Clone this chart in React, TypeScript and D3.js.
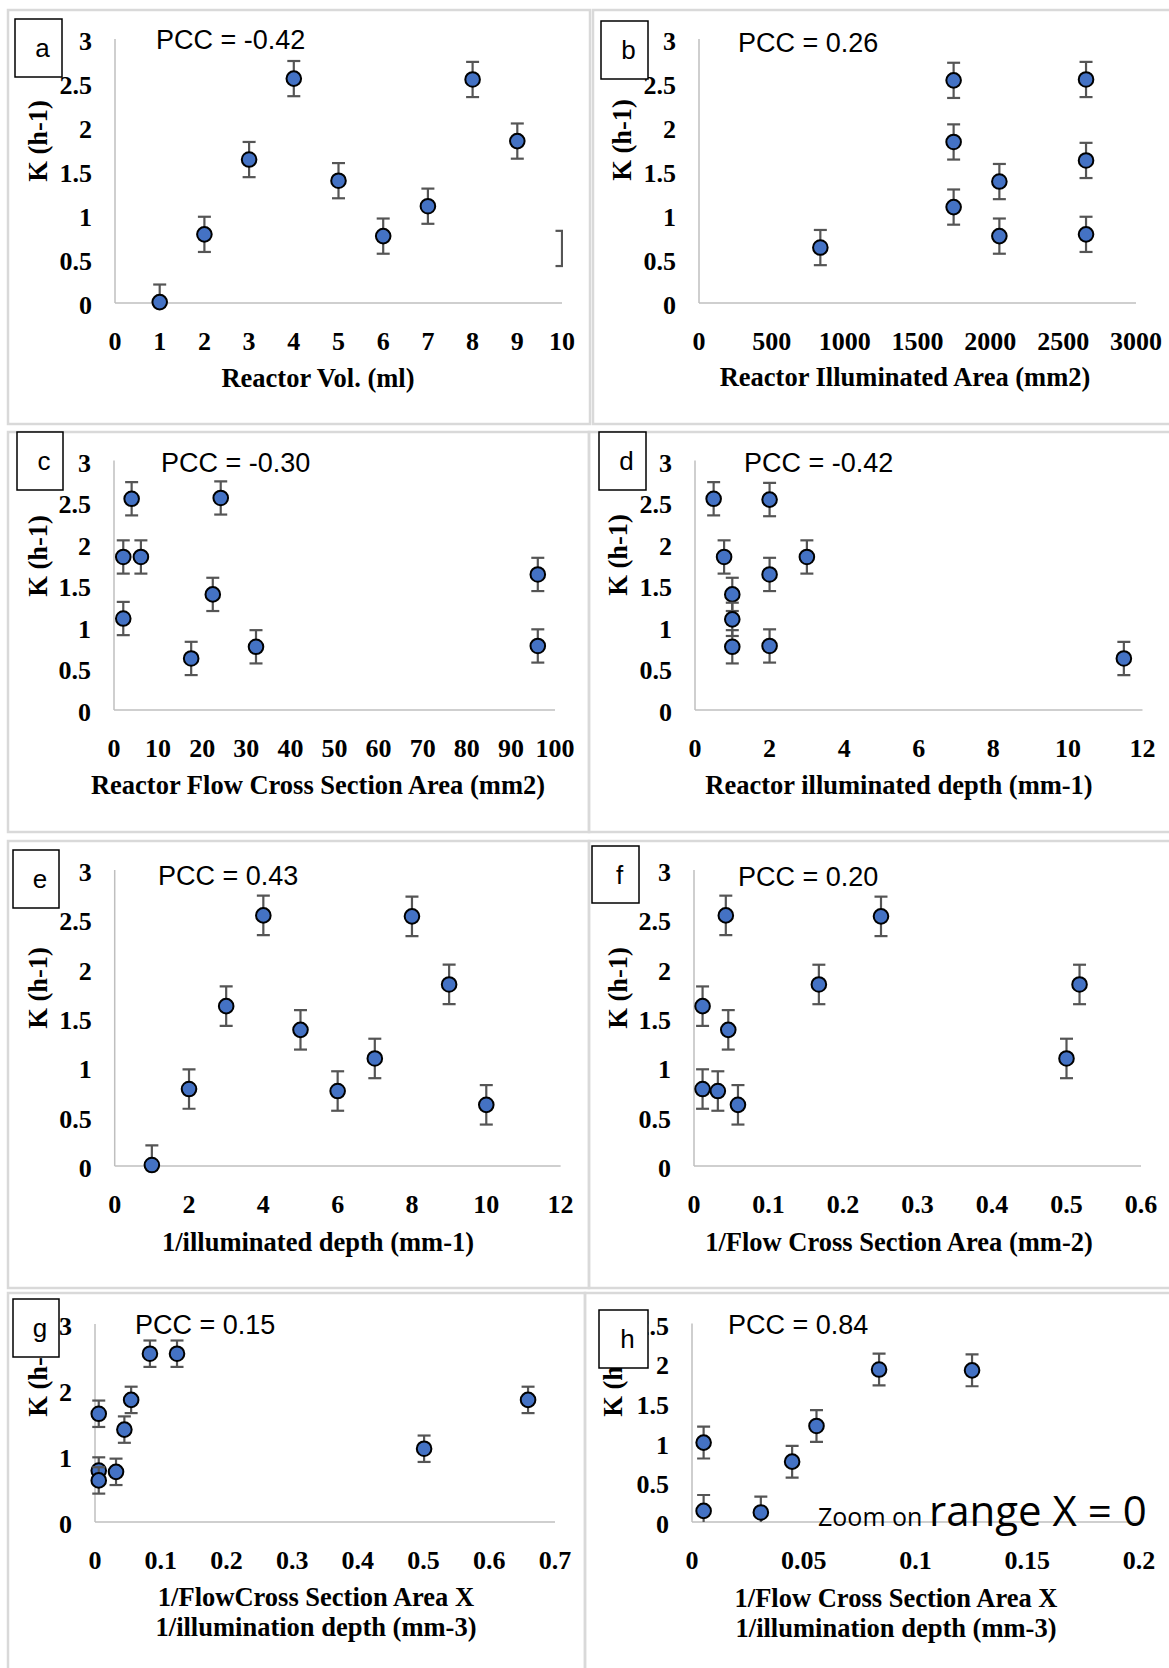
import React from 'react';
import * as d3 from 'd3';

// ---- values ----
const volA = [1, 2, 3, 4, 5, 6, 7, 8, 9];
const kA = [0.01, 0.78, 1.63, 2.55, 1.39, 0.76, 1.1, 2.54, 1.84];
const volAEdge = [10]; // error bar only, marker falls outside the plot
const kAEdge = [0.62];

const areaB = [833, 1748, 1748, 1748, 2062, 2062, 2657, 2657, 2657];
const kB = [0.63, 2.53, 1.83, 1.09, 1.38, 0.76, 2.54, 1.62, 0.78];

const flowC = [2.1, 2.1, 4.0, 6.1, 17.5, 22.4, 24.2, 32.2, 96.1, 96.1];
const kC = [1.84, 1.1, 2.54, 1.84, 0.62, 1.39, 2.55, 0.76, 1.63, 0.77];

const depthD = [0.5, 2.0, 0.78, 3.0, 2.0, 1.0, 1.0, 1.0, 2.0, 11.5];
const kD = [2.54, 2.53, 1.84, 1.84, 1.63, 1.39, 1.09, 0.76, 0.77, 0.62];

const invDepthE = [1, 2, 3, 4, 5, 6, 7, 8, 9, 10];
const kE = [0.01, 0.78, 1.62, 2.54, 1.38, 0.76, 1.09, 2.53, 1.84, 0.62];

const invFlowF = [0.0115, 0.0115, 0.032, 0.0427, 0.046, 0.059, 0.1676, 0.251, 0.5, 0.5175];
const kF = [1.62, 0.78, 0.76, 2.54, 1.38, 0.62, 1.84, 2.53, 1.09, 1.84];

const productG = [0.0057, 0.0057, 0.0057, 0.032, 0.0447, 0.055, 0.0836, 0.1248, 0.5008, 0.659];
const kG = [1.64, 0.78, 0.63, 0.76, 1.4, 1.85, 2.55, 2.55, 1.11, 1.85];

const productH = [0.0052, 0.0052, 0.0308, 0.0448, 0.0557, 0.0837, 0.1253];
const kH = [1.0, 0.14, 0.12, 0.76, 1.21, 1.92, 1.91];

const errK = 0.2;

const ticksVol = [0, 1, 2, 3, 4, 5, 6, 7, 8, 9, 10];
const ticksArea = [0, 500, 1000, 1500, 2000, 2500, 3000];
const ticksFlow = [0, 10, 20, 30, 40, 50, 60, 70, 80, 90, 100];
const ticksDepth = [0, 2, 4, 6, 8, 10, 12];
const ticksInvFlow = [0, 0.1, 0.2, 0.3, 0.4, 0.5, 0.6];
const ticksProduct = [0, 0.1, 0.2, 0.3, 0.4, 0.5, 0.6, 0.7];
const ticksProductZoom = [0, 0.05, 0.1, 0.15, 0.2];
const ticksK = [0, 0.5, 1, 1.5, 2, 2.5, 3];
const ticksKCoarse = [0, 1, 2, 3];
const ticksKZoom = [0, 0.5, 1, 1.5, 2, 2.5];

const SERIF = "'Liberation Serif', 'Times New Roman', serif";
const SANS = "'Liberation Sans', Arial, sans-serif";

type PanelDef = {
  id: string;
  xs: number[];
  ys: number[];
  edgeXs?: number[];
  edgeYs?: number[];
  xTicks: number[];
  yTicks: number[];
  xTitle: string[];
  pcc: string;
  frame: [number, number, number, number];
  plot: { x0: number; x1: number; y0: number; y1: number };
  box: [number, number, number, number];
  pccPos: [number, number];
  kPos: [number, number];
  titlePos: [number, number];
};

const panels: PanelDef[] = [
  {
    id: 'a', xs: volA, ys: kA, edgeXs: volAEdge, edgeYs: kAEdge,
    xTicks: ticksVol, yTicks: ticksK, xTitle: ['Reactor Vol. (ml)'], pcc: 'PCC = -0.42',
    frame: [8, 10, 582, 414], plot: { x0: 115, x1: 562, y0: 303, y1: 39 },
    box: [15, 19, 47, 58], pccPos: [156, 39], kPos: [38, 141], titlePos: [318, 378],
  },
  {
    id: 'b', xs: areaB, ys: kB,
    xTicks: ticksArea, yTicks: ticksK, xTitle: ['Reactor Illuminated Area (mm2)'], pcc: 'PCC = 0.26',
    frame: [593, 10, 620, 414], plot: { x0: 699, x1: 1136, y0: 303, y1: 39 },
    box: [601, 21, 47, 58], pccPos: [738, 42], kPos: [622, 140], titlePos: [905, 377],
  },
  {
    id: 'c', xs: flowC, ys: kC,
    xTicks: ticksFlow, yTicks: ticksK, xTitle: ['Reactor Flow Cross Section Area (mm2)'], pcc: 'PCC = -0.30',
    frame: [8, 432, 581, 400], plot: { x0: 114, x1: 555, y0: 710, y1: 460.5 },
    box: [17, 432, 46, 58], pccPos: [161, 462], kPos: [38, 556], titlePos: [318, 785],
  },
  {
    id: 'd', xs: depthD, ys: kD,
    xTicks: ticksDepth, yTicks: ticksK, xTitle: ['Reactor illuminated depth (mm-1)'], pcc: 'PCC = -0.42',
    frame: [589, 432, 620, 400], plot: { x0: 695, x1: 1142.5, y0: 710, y1: 460.5 },
    box: [599, 432, 47, 58], pccPos: [744, 462], kPos: [618, 555], titlePos: [899, 785],
  },
  {
    id: 'e', xs: invDepthE, ys: kE,
    xTicks: ticksDepth, yTicks: ticksK, xTitle: ['1/illuminated depth (mm-1)'], pcc: 'PCC = 0.43',
    frame: [8, 841, 581, 447], plot: { x0: 114.7, x1: 560.6, y0: 1166, y1: 870 },
    box: [13, 850, 46, 58], pccPos: [158, 875], kPos: [38, 988], titlePos: [318, 1242],
  },
  {
    id: 'f', xs: invFlowF, ys: kF,
    xTicks: ticksInvFlow, yTicks: ticksK, xTitle: ['1/Flow Cross Section Area (mm-2)'], pcc: 'PCC = 0.20',
    frame: [589, 841, 620, 447], plot: { x0: 694, x1: 1141, y0: 1166, y1: 870 },
    box: [592, 846, 47, 57], pccPos: [738, 876], kPos: [618, 988], titlePos: [899, 1242],
  },
  {
    id: 'g', xs: productG, ys: kG,
    xTicks: ticksProduct, yTicks: ticksKCoarse,
    xTitle: ['1/FlowCross Section Area X', '1/illumination depth (mm-3)'], pcc: 'PCC = 0.15',
    frame: [8, 1293, 577, 420], plot: { x0: 95, x1: 555, y0: 1522, y1: 1324 },
    box: [13, 1299, 46, 58], pccPos: [135, 1324], kPos: [38, 1376], titlePos: [316, 1597],
  },
  {
    id: 'h', xs: productH, ys: kH,
    xTicks: ticksProductZoom, yTicks: ticksKZoom,
    xTitle: ['1/Flow Cross Section Area X', '1/illumination depth (mm-3)'], pcc: 'PCC = 0.84',
    frame: [585, 1293, 620, 420], plot: { x0: 692, x1: 1139, y0: 1522, y1: 1323.5 },
    box: [599, 1310, 49, 58], pccPos: [728, 1324], kPos: [613, 1376], titlePos: [896, 1598],
  },
];

function Panel({ p }: { p: PanelDef }) {
  const x = d3.scaleLinear()
    .domain([p.xTicks[0], p.xTicks[p.xTicks.length - 1]])
    .range([p.plot.x0, p.plot.x1]);
  const y = d3.scaleLinear()
    .domain([p.yTicks[0], p.yTicks[p.yTicks.length - 1]])
    .range([p.plot.y0, p.plot.y1]);
  const clipId = `clip-${p.id}`;
  const cap = 6.5;

  const bars = p.xs.map((v, i) => ({ x: v, y: p.ys[i] }));
  const edgeBars = (p.edgeXs || []).map((v, i) => ({ x: v, y: (p.edgeYs || [])[i] }));

  const errorBar = (d: { x: number; y: number }, i: number, key: string) => {
    const cx = x(d.x);
    const top = y(d.y + errK);
    const bot = y(d.y - errK);
    return (
      <g key={`${key}${i}`} stroke="#555" strokeWidth={2.2} clipPath={`url(#${clipId})`}>
        <line x1={cx} x2={cx} y1={top} y2={bot} />
        <line x1={cx - cap} x2={cx + cap} y1={top} y2={top} />
        <line x1={cx - cap} x2={cx + cap} y1={bot} y2={bot} />
      </g>
    );
  };

  return (
    <g>
      <rect x={p.frame[0]} y={p.frame[1]} width={p.frame[2]} height={p.frame[3]}
        fill="none" stroke="#d9d9d9" strokeWidth={2.5} />
      <defs>
        <clipPath id={clipId}>
          <rect x={p.plot.x0 - 10} y={p.plot.y1 - 10} width={x.range()[1] - p.plot.x0 + 11}
            height={p.plot.y0 - p.plot.y1 + 10} />
        </clipPath>
      </defs>

      {/* axes */}
      <line x1={p.plot.x0} x2={p.plot.x0} y1={p.plot.y0} y2={p.plot.y1} stroke="#bfbfbf" strokeWidth={1.5} />
      <line x1={p.plot.x0} x2={p.plot.x1} y1={p.plot.y0} y2={p.plot.y0} stroke="#bfbfbf" strokeWidth={1.5} />

      <g fontFamily={SERIF} fontWeight="bold" fontSize={26} fill="#000">
        {p.yTicks.map(t => (
          <text key={`y${t}`} x={p.plot.x0 - 23} y={y(t) + 11} textAnchor="end">{String(t)}</text>
        ))}
        {p.xTicks.map(t => (
          <text key={`x${t}`} x={x(t)} y={p.plot.y0 + 47} textAnchor="middle">{String(t)}</text>
        ))}
      </g>

      {/* axis titles */}
      <g fontFamily={SERIF} fontWeight="bold" fontSize={26.5} fill="#000">
        {p.xTitle.map((line, i) => (
          <text key={line} x={p.titlePos[0]} y={p.titlePos[1] + 9 + i * 30} textAnchor="middle">{line}</text>
        ))}
        <text transform={`translate(${p.kPos[0] + 9},${p.kPos[1]}) rotate(-90)`} textAnchor="middle">K (h-1)</text>
      </g>

      {/* data */}
      {edgeBars.map((d, i) => errorBar(d, i, 'edge'))}
      {bars.map((d, i) => (
        <g key={`pt${i}`}>
          {errorBar(d, i, 'eb')}
          <circle cx={x(d.x)} cy={y(d.y)} r={7.3} fill="#4472C4" stroke="#000" strokeWidth={2} />
        </g>
      ))}

      <text x={p.pccPos[0]} y={p.pccPos[1] + 10} fontFamily={SANS} fontSize={27} fill="#000">{p.pcc}</text>

      <rect x={p.box[0]} y={p.box[1]} width={p.box[2]} height={p.box[3]} fill="#fff" stroke="#000" strokeWidth={1.5} />
      <text x={p.box[0] + p.box[2] / 2 + 4} y={p.box[1] + 38} textAnchor="middle"
        fontFamily={SANS} fontSize={26} fill="#000">{p.id}</text>
    </g>
  );
}

export default function App() {
  return (
    <svg width={1169} height={1668} viewBox="0 0 1169 1668"
      style={{ position: 'absolute', left: 0, top: 0, display: 'block', background: '#fff' }}>
      <rect x={0} y={0} width={1169} height={1668} fill="#fff" />
      {panels.map(p => <Panel key={p.id} p={p} />)}
      <text y={1526} fontFamily="'Open Sans', sans-serif" fill="#000">
        <tspan x={818} fontSize={25}>Zoom on</tspan>
        <tspan x={929} fontSize={42}>range X = 0</tspan>
      </text>
    </svg>
  );
}
